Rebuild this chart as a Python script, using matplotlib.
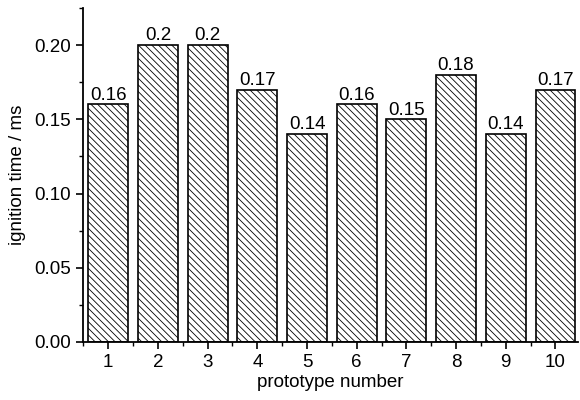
import matplotlib
matplotlib.use('Agg')
import matplotlib.pyplot as plt
from matplotlib.ticker import MultipleLocator

# Data
prototypes = [1, 2, 3, 4, 5, 6, 7, 8, 9, 10]
ignition_time = [0.16, 0.2, 0.2, 0.17, 0.14, 0.16, 0.15, 0.18, 0.14, 0.17]
value_labels = ['0.16', '0.2', '0.2', '0.17', '0.14', '0.16', '0.15', '0.18', '0.14', '0.17']

plt.rcParams['font.family'] = ['Liberation Sans', 'DejaVu Sans']
plt.rcParams['hatch.linewidth'] = 0.6
plt.rcParams['hatch.color'] = '#333333'

fig = plt.figure(figsize=(5.8, 4.0), dpi=100)
ax = fig.add_axes([0.143, 0.145, 0.854, 0.835])

bars = ax.bar(prototypes, ignition_time, width=0.8, color='white',
              edgecolor='black', linewidth=1.2, hatch='\\\\\\\\\\')
for b in bars:
    b.set_edgecolor('black')

for b, lab in zip(bars, value_labels):
    ax.text(b.get_x() + b.get_width() / 2, b.get_height() + 0.0005, lab,
            ha='center', va='bottom', fontsize=13.5)

ax.set_xlim(0.49, 10.46)
ax.set_ylim(0, 0.225)
ax.set_xticks(prototypes)
ax.xaxis.set_minor_locator(MultipleLocator(0.5))
ax.yaxis.set_major_locator(MultipleLocator(0.05))
ax.yaxis.set_minor_locator(MultipleLocator(0.025))
ax.yaxis.set_major_formatter(plt.FormatStrFormatter('%.2f'))

ax.spines['top'].set_visible(False)
ax.spines['right'].set_visible(False)
ax.spines['left'].set_linewidth(1.3)
ax.spines['bottom'].set_linewidth(1.3)
ax.tick_params(which='major', direction='out', length=5, width=1.2, labelsize=13.5)
ax.tick_params(which='minor', direction='out', length=3, width=1.0)

ax.set_xlabel('prototype number', fontsize=13.5, labelpad=2)
ax.set_ylabel('ignition time / ms', fontsize=13.5, labelpad=6)

fig.savefig('out.png', dpi=100)
